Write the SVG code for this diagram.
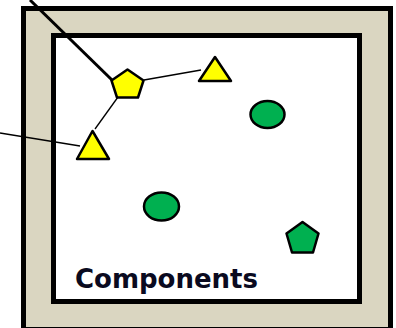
<svg xmlns="http://www.w3.org/2000/svg" width="396" height="328" viewBox="0 0 396 328">
<style>
.frame{fill:#DAD6C1;stroke:#000;stroke-width:5}
.inner{fill:#fff;stroke:#000;stroke-width:5}
.y{fill:#FFFF00;stroke:#000;stroke-width:2.5;stroke-linejoin:round}
.g{fill:#00B050;stroke:#000;stroke-width:2.5;stroke-linejoin:round}
.thin{stroke:#000;stroke-width:1.3;fill:none}
.thick{stroke:#000;stroke-width:3;fill:none}
.label{font-family:"DejaVu Sans",Verdana,sans-serif;font-weight:bold;font-size:26px;fill:#0A0A20}
</style>
<g id="container">
<rect class="frame" x="23.5" y="8.5" width="367" height="321"/>
<rect class="inner" x="53.5" y="35.5" width="306" height="266"/>
<text class="label" x="75" y="288" textLength="183" lengthAdjust="spacingAndGlyphs">Components</text>
</g>
<g id="connectors">
<line class="thick" x1="30" y1="0" x2="112" y2="80"/>
<line class="thin" x1="144" y1="80" x2="201" y2="70"/>
<line class="thin" x1="118" y1="97" x2="95" y2="129"/>
<line class="thin" x1="0" y1="133" x2="80" y2="146"/>
</g>
<g id="yellow-pentagon"><polygon class="y" points="127.5,69.5 143.5,80.5 138,97.5 117,97.5 111.5,80.5"/></g>
<g id="yellow-triangle-top"><polygon class="y" points="215,57 231,81 199,81"/></g>
<g id="yellow-triangle-left"><polygon class="y" points="92.5,131 109,159 77,159"/></g>
<g id="green-circle-top"><ellipse class="g" cx="267.5" cy="114.5" rx="17" ry="13.5"/></g>
<g id="green-circle-bottom"><ellipse class="g" cx="161.5" cy="206.5" rx="17.5" ry="14"/></g>
<g id="green-pentagon"><polygon class="g" points="302.5,222 318.5,233.5 313,252.5 292,252.5 286.5,233.5"/></g>
</svg>
